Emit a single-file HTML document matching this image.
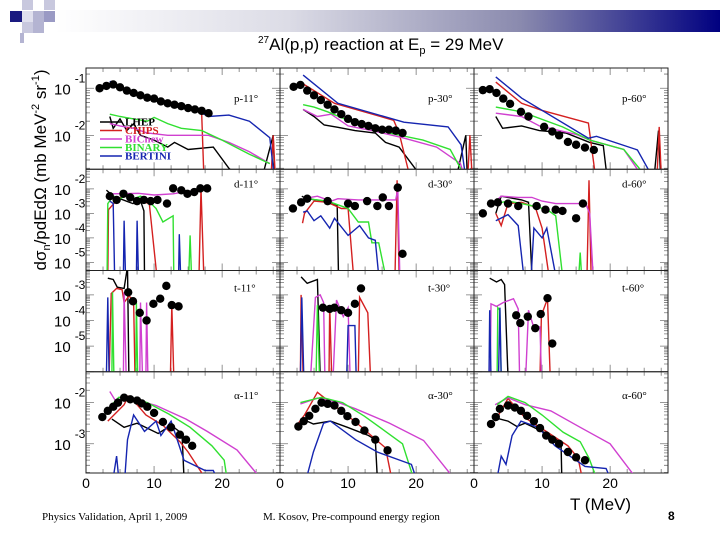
<!DOCTYPE html>
<html><head><meta charset="utf-8"><style>
body{margin:0;background:#fff;}
svg{display:block;font-family:"Liberation Sans",sans-serif;}
.ser{font-family:"Liberation Serif",serif;}
</style></head><body>
<svg id="chart" width="720" height="540" viewBox="0 0 720 540" xmlns="http://www.w3.org/2000/svg">
<defs>
<linearGradient id="bar" x1="0" x2="1" y1="0" y2="0">
<stop offset="0" stop-color="#ffffff"/><stop offset="0.35" stop-color="#dcdce6"/><stop offset="0.7" stop-color="#8a8aae"/><stop offset="1" stop-color="#000080"/>
</linearGradient>
</defs>
<g>
<rect x="55" y="10" width="665" height="22" fill="url(#bar)"/>
<rect x="22" y="0" width="11" height="10" fill="#c8c8de"/>
<rect x="44" y="0" width="11" height="10" fill="#c8c8de"/>
<rect x="10" y="11" width="12" height="11" fill="#1a1a80"/>
<rect x="22" y="11" width="11" height="11" fill="#e0e0ee"/>
<rect x="33" y="11" width="11" height="11" fill="#b4b4d2"/>
<rect x="44" y="11" width="11" height="11" fill="#9a9ac4"/>
<rect x="22" y="22" width="11" height="11" fill="#c8c8de"/>
<rect x="33" y="22" width="11" height="11" fill="#b4b4d2"/>
<rect x="20" y="33" width="4" height="10" fill="#b4b4d2"/>
</g>
<text x="258" y="50" font-size="17"><tspan font-size="10" dy="-7">27</tspan><tspan dy="7">Al(p,p) reaction at E</tspan><tspan font-size="11" dy="4">p</tspan><tspan dy="-4"> = 29 MeV</tspan></text>
<text transform="translate(46,170) rotate(-90)" text-anchor="middle" font-size="17">dσ<tspan font-size="11" dy="4">n</tspan><tspan dy="-4">/pdEdΩ (mb MeV</tspan><tspan font-size="11" dy="-7">-2</tspan><tspan dy="7"> sr</tspan><tspan font-size="11" dy="-7">-1</tspan><tspan dy="7">)</tspan></text>
<g id="panels"></g>
<text x="570" y="510" font-size="17">T (MeV)</text>
<text class="ser" x="42" y="520" font-size="11">Physics Validation, April 1, 2009</text>
<text class="ser" x="263" y="520" font-size="11">M. Kosov, Pre-compound energy region</text>
<text x="668" y="520" font-size="12" font-weight="bold">8</text>
</svg>
<script>
const B = -9;
const p11Data=[[2,-1.0],[3,-0.95],[4,-0.92],[5,-0.98],[6,-1.05],[7,-1.1],[8,-1.15],[9,-1.2],[10,-1.22],[11,-1.28],[12,-1.32],[13,-1.35],[14,-1.38],[15,-1.42],[16,-1.45],[17,-1.48],[18,-1.53]];
const p11Bert=[[3.5,-0.85],[5,-1.0],[7,-1.1],[10,-1.25],[13,-1.35],[16,-1.45],[18,-1.6],[21,-1.57],[24,-1.7],[27,-2.05],[27.6,B]];
const p11Chips=[[3,-0.9],[5,-1.0],[8,-1.15],[11,-1.25],[14,-1.35],[16,-1.45],[17,-1.55],[17.3,B],[27.2,B],[27.5,-2.0],[27.8,B]];
const p11Bin=[[3.5,-1.55],[5,-1.6],[7,-1.65],[9,-1.7],[10,-1.62],[12,-1.75],[14,-1.85],[17,-1.9],[20,-2.1],[24,-2.4],[27,-2.6]];
const p11Bic=[[3.5,-1.75],[5,-1.8],[7,-1.85],[9,-1.95],[12,-2.0],[15,-2.0],[18,-2.0],[21,-2.15],[24,-2.35],[27,-2.6]];
const p11Lhep=[[3.5,-1.6],[4,-1.85],[5,-1.65],[6,-1.9],[7,-1.75],[8,-2.0],[10,-2.1],[12,-2.25],[13,-2.15],[15,-2.3],[18.7,-2.25],[21,-2.7],[22,-2.9],[26,B],[27.5,-2.0],[27.7,B]];

const p30Data=[[2,-0.97],[3,-0.93],[4,-1.05],[5,-1.15],[6,-1.25],[7,-1.35],[8,-1.45],[9,-1.55],[10,-1.65],[11,-1.72],[12,-1.76],[13,-1.8],[14,-1.85],[15,-1.88],[16,-1.88],[17,-1.9],[18,-1.95]];
const p30Bert=[[3.4,-0.72],[8.5,-1.32],[18.2,-1.72],[24.7,-1.82],[26.6,-2.2],[27.2,B]];
const p30Chips=[[3.3,-0.9],[8,-1.32],[16.7,-1.68],[17.5,-1.95],[19,B],[27.6,B],[27.9,-2.0],[28.2,B]];
const p30Bin=[[3.4,-1.35],[5,-1.4],[7,-1.5],[11,-1.74],[16,-1.95],[21,-2.1],[25,-2.3],[27,B]];
const p30Bic=[[3.4,-1.45],[5.5,-1.6],[7.5,-1.55],[10,-1.8],[13.5,-1.9],[18,-2.05],[23,-2.25],[26.5,-2.6],[27,B]];
const p30Lhep=[[3.4,-1.45],[5,-1.6],[6.5,-1.78],[8.5,-1.83],[11,-1.9],[14,-1.95],[15.5,-2.15],[17.5,-2.25],[20.5,B],[26,B],[27.3,-2.0],[27.5,B]];

const p60Data=[[1.3,-1.04],[2.3,-1.02],[3.3,-1.1],[4.3,-1.22],[5.3,-1.33],[6.9,-1.5],[8,-1.6],[10.3,-1.82],[11.5,-1.92],[12.5,-2.0],[13.8,-2.14],[15,-2.2],[16.3,-2.26],[17.6,-2.31]];
const p60Bert=[[3.2,-0.76],[7,-1.21],[16.8,-2.06],[18,-2.02],[24,-2.31],[26,B]];
const p60Chips=[[3.2,-0.87],[7,-1.32],[10,-1.47],[16.8,-1.74],[17.8,B],[26.9,B],[27.2,-1.82],[27.5,B]];
const p60Bin=[[3.2,-1.4],[7,-1.5],[13,-1.82],[17,-2.1],[22,-2.3],[25,B]];
const p60Bic=[[3.2,-1.53],[7,-1.6],[9.6,-1.8],[15,-1.98],[17,-2.1],[22,-2.3],[24.5,B]];
const p60Lhep=[[3.2,-1.6],[4.2,-1.85],[7,-1.8],[9.6,-1.9],[13.5,-1.95],[17,-2.15],[19,-2.22],[19.5,B],[26.5,B],[27.1,-1.9],[27.4,B]];

const d11Data=[[3.5,-2.3],[4.5,-2.45],[5.5,-2.2],[6.5,-2.35],[7.5,-2.5],[8.5,-2.45],[9.5,-2.5],[10.5,-2.45],[11.9,-2.6],[12.8,-1.98],[14,-2.06],[14.9,-2.2],[15.9,-2.13],[16.8,-1.98],[17.8,-1.98]];
const d11Bert=[[3.5,-2.5],[4,-2.6],[4.2,B],[5.5,B],[5.6,-3.3],[5.8,B],[7.4,B],[7.5,-3.3],[7.7,B],[13.6,B],[13.7,-3.85],[13.9,B]];
const d11Chips=[[3.2,B],[3.3,-2.85],[4.4,-2.5],[5.8,-2.2],[6.9,-2.4],[9.3,-2.6],[10.4,B],[16.6,B],[16.9,-1.98],[17.3,B]];
const d11Bin=[[3.1,B],[3.2,-2.6],[4,-2.3],[5,-2.4],[6,-2.25],[7,-2.4],[8,-2.3],[9,-2.45],[10.3,-2.8],[11.3,-3.35],[12.8,-3.1],[12.9,B],[15.1,B],[15.3,-3.9],[15.5,B]];
const d11Bic=[[3.9,-2.2],[7.7,-2.18],[10,-2.25],[12.8,-2.2],[14.9,-2.1],[17,-2.1]];
const d11Lhep=[[3,-2.05],[4,-2.3],[6.9,-2.6],[7.9,-2.4],[8.5,-2.9],[8.6,B]];

const d30Data=[[1.9,-2.8],[3.1,-2.55],[4,-2.4],[7,-2.5],[10,-2.6],[11,-2.7],[12.8,-2.5],[14.3,-2.7],[15.1,-2.35],[16,-2.7],[17.3,-1.95],[18,-4.65]];
const d30Bert=[[3.4,-2.95],[4,-2.9],[5,-3.3],[6,-3.1],[7.3,-3.6],[8,-3.2],[10,-3.9],[11.7,-3.5],[13,-4.0],[14,-4.1],[14.5,B]];
const d30Chips=[[3.3,-3.4],[3.6,-3.0],[5,-2.5],[7,-2.55],[9,-2.8],[10,-2.8],[10.8,B],[16.9,B],[17.2,-1.65],[17.5,B]];
const d30Bin=[[3.4,-2.6],[4,-2.4],[5.5,-2.45],[7,-2.5],[10,-2.8],[11.5,-3.35],[13,-3.35],[13.5,-4.2],[14.5,-4.2],[15.5,B]];
const d30Bic=[[3.4,-2.4],[5.5,-2.3],[7.5,-2.5],[8.5,-2.4],[11.5,-2.45],[13.5,-2.45],[17,-2.45],[17.3,-2.0],[17.6,B]];
const d30Lhep=[[3.2,-2.3],[4,-2.4],[6.5,-2.5],[8.4,-2.7],[8.6,B]];

const d60Data=[[1.3,-3.0],[2.5,-2.6],[3.5,-2.55],[5,-2.6],[6.5,-2.7],[9.2,-2.7],[10.5,-2.85],[12,-2.85],[13,-2.9],[15,-3.2],[16,-2.6]];
const d60Bert=[[3.2,-3.3],[5,-3.05],[6.5,-3.5],[7.3,B],[8.4,B],[8.8,-3.6],[10,-4.0],[10.7,-3.6],[12,B]];
const d60Chips=[[3.2,-3.0],[4,-3.5],[5,-2.6],[7,-2.55],[9,-2.75],[10,-3.6],[11,B],[16.6,B],[16.9,-1.65],[17.2,B]];
const d60Bin=[[3.2,-2.6],[5,-2.5],[7,-2.6],[9.5,-2.75],[11,-2.9],[12,-3.1],[13,B],[15.4,B],[15.6,-4.6],[15.8,B]];
const d60Bic=[[3.2,-2.5],[4,-2.3],[6.5,-2.35],[8.5,-2.35],[10,-2.5],[12,-2.6],[16.4,-2.6],[17,-3.0],[17.5,B]];
const d60Lhep=[[3.2,-3.0],[4,-2.3],[7,-2.45],[8,-2.55],[8.5,B]];

const t11Data=[[6.2,-2.9],[6.9,-3.25],[7.9,-3.7],[8.9,-4.0],[9.9,-3.35],[10.9,-3.15],[11.8,-2.65],[12.6,-3.4],[13.6,-3.45]];
const t11Bert=[[3.0,B],[3.2,-3.1],[3.4,B]];
const t11Chips=[[3.4,B],[3.7,-2.95],[4.5,-2.75],[5.3,-2.8],[5.6,-3.3],[6.3,-3.05],[7,-3.2],[7.2,B],[12.4,B],[12.6,-3.4],[12.9,B]];
const t11Bin=[[3.8,B],[3.9,-2.9],[4.1,B],[7.3,B],[7.4,-3.3],[7.6,B]];
const t11Bic=[[5.5,B],[5.6,-2.9],[5.9,B],[7.9,B],[8.0,-3.3],[8.3,B],[8.8,B],[8.9,-3.3],[9.1,B]];
const t11Lhep=[[3.2,-2.35],[4,-2.4],[4.6,-2.7],[5.6,-2.75],[6.1,-1.9],[6.3,B]];

const t30Data=[[6.3,-3.5],[7.3,-3.55],[8,-3.5],[9,-3.6],[10,-3.7],[11,-3.35],[11.9,-2.75]];
const t30Bert=[[3.0,B],[3.2,-3.1],[3.5,B],[9.8,B],[10,-4.2],[11,-4.2],[11.2,B]];
const t30Chips=[[3.0,B],[3.1,-3.0],[3.4,B],[7.2,B],[7.3,-3.4],[7.6,B],[11.5,B],[11.7,-3.1],[12.9,-3.7],[13.3,B]];
const t30Bin=[[5.3,B],[5.5,-3.4],[5.8,B]];
const t30Bic=[[4.5,B],[5.2,-3.1],[5.9,-3.0],[6.4,-3.3],[6.6,B],[7.8,B],[8.3,-3.2],[9.3,-3.85],[10,-3.5],[10.3,B]];
const t30Lhep=[[3.1,-2.3],[4,-2.55],[5.5,-2.4],[5.9,B]];

const t60Data=[[6.2,-3.8],[6.8,-4.1],[7.9,-3.85],[9,-4.3],[9.8,-3.75],[10.8,-3.13],[11.5,-4.9]];
const t60Bert=[[2.2,B],[2.3,-3.6],[2.5,B],[3.6,B],[3.8,-3.5],[4,B]];
const t60Chips=[[9.7,B],[9.9,-3.8],[10.8,-3.15],[11.2,B]];
const t60Bin=[[3.4,B],[3.5,-3.5],[3.8,-3.6],[4,B]];
const t60Bic=[[2.4,B],[2.5,-3.35],[3.3,-3.45],[4.3,-3.3],[5.8,-3.15],[6.5,-3.55],[6.7,B],[7.6,B],[8,-3.6],[8.7,-4.2],[9.7,-4.25],[9.9,B]];
const t60Lhep=[[2.3,-2.35],[3.3,-2.5],[4,-2.4],[4.5,-2.6],[5,B]];

const a11Data=[[2.4,-2.35],[3.2,-2.2],[4,-2.1],[4.7,-2.0],[5.6,-1.88],[6.5,-1.92],[7.5,-1.95],[8.2,-2.02],[9,-2.1],[10,-2.25],[11.3,-2.47],[12.5,-2.6],[13.8,-2.78],[14.7,-2.9],[15.6,-3.05]];
const a11Bert=[[4,B],[4.5,-3.3],[4.8,B],[5.7,B],[6.1,-2.9],[7,-2.3],[8.6,-2.7],[10.3,-2.45],[11,-2.8],[12.5,-2.45],[14.4,-3.4],[17.5,-3.65],[18.7,-3.65],[19.2,B]];
const a11Chips=[[3.2,-2.45],[4.1,-2.3],[4.7,-2.2],[5.6,-2.05],[6.2,-1.85],[7.5,-2.05],[8.8,-2.3],[11.3,-2.55],[13.8,-2.95],[15,-3.2],[17.5,B]];
const a11Bin=[[3.8,-2.05],[4.8,-1.87],[6.6,-1.87],[9,-2.0],[12.2,-2.28],[15.3,-2.6],[18.5,-3.05],[20.3,-3.4],[20.7,B]];
const a11Bic=[[3.5,-1.73],[4.5,-2.0],[6,-1.87],[10.3,-2.07],[14.7,-2.4],[17.8,-2.7],[22.2,-3.15],[25.6,B]];
const a11Lhep=[[3.8,-2.4],[5.6,-2.6],[7.5,-2.5],[10.6,-2.75],[12.5,-2.55],[14.1,-2.75],[14.4,B]];

const a30Data=[[2.7,-2.58],[3.5,-2.45],[4.3,-2.32],[5.2,-2.15],[6.1,-2.0],[7,-2.03],[8,-2.07],[9,-2.2],[9.9,-2.33],[11.1,-2.47],[12.4,-2.68],[14,-2.9],[15.8,-3.16]];
const a30Bert=[[3.9,B],[4.9,-3.2],[6.4,-2.5],[7.4,-2.45],[11.1,-2.9],[14.3,-3.2],[19.3,-3.5],[20,B]];
const a30Chips=[[2.7,-2.5],[3.6,-2.3],[5.5,-1.75],[7.4,-2.0],[11.1,-2.47],[15.5,-3.1],[16.4,B]];
const a30Bin=[[3,-2.0],[6.1,-1.87],[9.2,-2.0],[12.4,-2.33],[15.5,-2.7],[18,-3.0],[19.6,B]];
const a30Bic=[[3,-2.03],[5.5,-1.89],[8.6,-2.0],[11.1,-2.15],[16.1,-2.5],[21.1,-2.92],[25.5,B]];
const a30Lhep=[[3.3,-2.4],[4.9,-2.52],[7.4,-2.45],[9.9,-2.6],[13,-2.8],[14,-2.9],[14.3,B]];

const a60Data=[[2.5,-2.52],[3.2,-2.35],[3.8,-2.15],[5,-2.07],[6,-2.12],[6.9,-2.2],[7.8,-2.32],[8.8,-2.45],[9.7,-2.62],[10.6,-2.8],[11.5,-2.9],[12.5,-3.0],[13.8,-3.2],[15,-3.33],[16.3,-3.4]];
const a60Bert=[[3.4,B],[4,-3.3],[4.7,-3.5],[5.6,-2.8],[6.9,-2.45],[9.4,-2.6],[11.9,-3.05],[16.3,-3.55],[19.4,-3.6],[20,B]];
const a60Chips=[[3.1,-2.45],[5,-1.9],[7.5,-2.37],[10.6,-2.7],[13.8,-3.05],[15.3,-3.35],[15.9,B]];
const a60Bin=[[3.4,-2.05],[5,-1.85],[7.5,-2.0],[10,-2.3],[13.1,-2.72],[15.6,-2.95],[16.9,-3.35],[18,B]];
const a60Bic=[[3.1,-2.05],[5,-1.88],[7.5,-2.05],[11.3,-2.2],[15.6,-2.6],[20,-3.0],[23.8,B]];
const a60Lhep=[[3.1,-2.37],[5,-2.45],[6.3,-2.58],[7.5,-2.5],[10,-2.7],[11.9,-2.85],[12.8,-3.05],[12.9,B]];

const rowTop=[-0.57,-1.2,-2.05,-1.25];
const rowBottom=[-2.72,-5.33,-6.0,-3.71];
const rowDecades=[[-1,-2],[-2,-3,-4,-5],[-3,-4,-5],[-2,-3]];
const rowNames=['p','d','t','α'];
const colAngles=['11','30','60'];
const xTickLabels=[0,10,20];
const legendNames=['LHEP','CHIPS','BICnew','BINARY','BERTINI'];

const panelData=[
 [[p11Data,p11Lhep,p11Chips,p11Bic,p11Bin,p11Bert],[p30Data,p30Lhep,p30Chips,p30Bic,p30Bin,p30Bert],[p60Data,p60Lhep,p60Chips,p60Bic,p60Bin,p60Bert]],
 [[d11Data,d11Lhep,d11Chips,d11Bic,d11Bin,d11Bert],[d30Data,d30Lhep,d30Chips,d30Bic,d30Bin,d30Bert],[d60Data,d60Lhep,d60Chips,d60Bic,d60Bin,d60Bert]],
 [[t11Data,t11Lhep,t11Chips,t11Bic,t11Bin,t11Bert],[t30Data,t30Lhep,t30Chips,t30Bic,t30Bin,t30Bert],[t60Data,t60Lhep,t60Chips,t60Bic,t60Bin,t60Bert]],
 [[a11Data,a11Lhep,a11Chips,a11Bic,a11Bin,a11Bert],[a30Data,a30Lhep,a30Chips,a30Bic,a30Bin,a30Bert],[a60Data,a60Lhep,a60Chips,a60Bic,a60Bin,a60Bert]]
];

const NS='http://www.w3.org/2000/svg';
const colors=['#000000','#d42020','#d040d0','#30e030','#1525b0'];
const seriesKeys=['lhep','chips','bicnew','binary','bertini'];
const X0=86, PW=194, Y0=68, PH=101.25, TMAX=28.5;
const root=document.getElementById('panels');
function mk(tag,attrs,parent){const e=document.createElementNS(NS,tag);for(const k in attrs)e.setAttribute(k,attrs[k]);(parent||root).appendChild(e);return e;}

for(let r=0;r<4;r++){
  const top=Y0+r*PH, bot=top+PH;
  const yS=L=>top+(rowTop[r]-L)/(rowTop[r]-rowBottom[r])*PH;
  rowDecades[r].forEach(d=>{
    const y=yS(d);
    const t=mk('text',{x:54,y:y+6,'font-size':15});
    
    
    t.textContent='10';
    const s=mk('tspan',{dy:-12,dx:4,'font-size':12},t);s.textContent=String(d);
  });
  for(let c=0;c<3;c++){
    const left=X0+c*PW, right=left+PW;
    const xS=T=>left+T/TMAX*PW;
    const g=mk('g',{});
    
    
    const cid='clip'+r+c;
    const cp=mk('clipPath',{id:cid},g);mk('rect',{x:left,y:top,width:PW,height:PH},cp);
    let tk='';
    for(let T=0;T<=TMAX;T+=2.5){const x=xS(T);const len=(T%10===0)?7:4;tk+=`M${x},${bot}v${-len}M${x},${top}v${len}`;}
    for(let d=Math.ceil(rowBottom[r]);d<=Math.floor(rowTop[r])+1;d++){
      for(let m=1;m<10;m++){const L=d-1+Math.log10(m);if(L<rowBottom[r]||L>rowTop[r])continue;const y=yS(L);const len=m===1?8:4;tk+=`M${left},${y}h${len}M${right},${y}h${-len}`;}
    }
    mk('path',{d:tk,stroke:'#777','stroke-width':0.8,fill:'none'},g);
    mk('rect',{x:left,y:top,width:PW,height:PH,fill:'none',stroke:'#222','stroke-width':1},g);
    const lab=mk('text',{x:right-46,y:top+[34,18,21,27][r],'font-size':11,'font-family':'Liberation Serif, serif'},g);
    
    
    lab.textContent=rowNames[r]+'-'+colAngles[c]+'°';
    const sets=panelData[r][c];
    const cg=mk('g',{'clip-path':'url(#'+cid+')'},g);
    for(let s=1;s<=5;s++){
      const pts=sets[s].map(p=>xS(p[0]).toFixed(1)+','+Math.min(yS(p[1]),bot+5).toFixed(1)).join(' ');
      const pl=mk('polyline',{points:pts,fill:'none',stroke:colors[s-1],'stroke-width':1.4},cg);
      
      
    }
    sets[0].forEach(p=>{
      const ci=mk('circle',{cx:xS(p[0]),cy:yS(p[1]),r:4.2,fill:'#000'},cg);
      
      
    });
    if(r===3){
      xTickLabels.forEach(v=>{
        const t=mk('text',{x:xS(v),y:488,'font-size':14,'text-anchor':'middle'});
        
        
        t.textContent=String(v);
      });
    }
  }
}
const lg=mk('g',{});


legendNames.forEach((n,i)=>{
  const y=122+i*8.5;
  mk('line',{x1:100,x2:122,y1:y,y2:y,stroke:colors[i],'stroke-width':1.4},lg);
  const t=mk('text',{x:125,y:y+3.5,'font-size':11,'font-weight':'bold','font-family':'Liberation Serif, serif',fill:colors[i]},lg);
  
  
  t.textContent=n;
});
</script>
</body></html>
